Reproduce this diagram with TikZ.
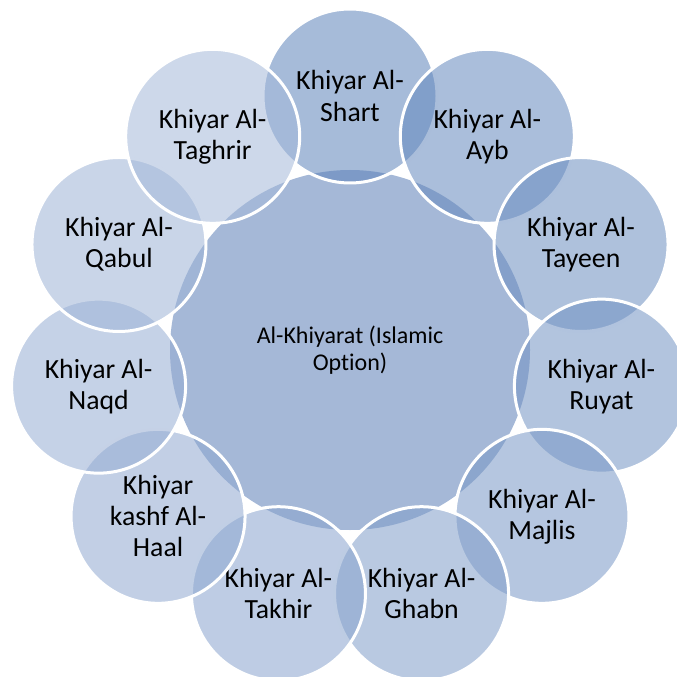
\documentclass[tikz,border=0pt]{standalone}
\usepackage{fontspec}
\setmainfont{Carlito}[Ligatures={NoCommon}]
\begin{document}
\begin{tikzpicture}[x=0.75pt,y=-0.75pt]
\definecolor{centerc}{HTML}{A5B8D7}
\definecolor{outD}{HTML}{5D83BA}
\definecolor{outL}{HTML}{A4B8D9}
\tikzset{
  hub/.style={circle, minimum size=270pt, inner sep=0pt, fill=centerc, align=center,
    font=\fontsize{18}{20.3}\selectfont},
  petal/.style={circle, minimum size=130.5pt, inner sep=0pt, draw=white, line width=2.25pt,
    fill opacity=0.55, text opacity=1, draw opacity=1, align=center,
    font=\fontsize{20.8}{23.3}\selectfont},
}
\useasboundingbox (0,0) rectangle (676,677);
\node[hub] (hub) at (350,350) {Al-Khiyarat (Islamic\\Option)};
\foreach \i/\n/\t in {0/shart/{Khiyar Al-\\Shart},1/ayb/{Khiyar Al-\\Ayb},2/tayeen/{Khiyar Al-\\Tayeen},
  3/ruyat/{Khiyar Al-\\Ruyat},4/majlis/{Khiyar Al-\\Majlis},5/ghabn/{Khiyar Al-\\Ghabn},
  6/takhir/{Khiyar Al-\\Takhir},7/kashf/{Khiyar\\kashf Al-\\Haal},8/naqd/{Khiyar Al-\\Naqd},
  9/qabul/{Khiyar Al-\\Qabul},10/taghrir/{Khiyar Al-\\Taghrir}}{
  \pgfmathtruncatemacro\pct{100-10*\i}
  \node[petal, fill=outD!\pct!outL] (\n) at ({350+254*sin(\i*360/11)},{350-254*cos(\i*360/11)}) {\t};
}
\end{tikzpicture}
\end{document}
